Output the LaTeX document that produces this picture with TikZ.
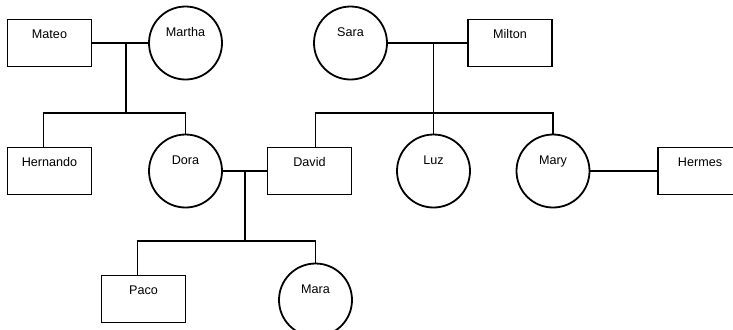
\documentclass[tikz,border=0pt]{standalone}
\usepackage{fontspec}
\setmainfont{Liberation Sans}
\usetikzlibrary{positioning, calc}

\begin{document}
\begin{tikzpicture}[
        on grid,
        male/.style={rectangle, draw=black, line width=0.9pt, minimum width=42pt, minimum height=23.5pt, text height=5pt, text depth=9.7pt, inner sep=1pt, font=\fontsize{6.3}{7}\selectfont},
        female/.style={circle, draw=black, line width=0.9pt, minimum size=36.5pt, text height=5pt, text depth=11.8pt, inner sep=1pt, font=\fontsize{6.3}{7}\selectfont},
        link/.style={line width=0.9pt, draw=black},
    ]
        % Frame
        \useasboundingbox (0,0) rectangle (366.5pt,-164.5pt);
        \clip (0,0) rectangle (366.5pt,-164.5pt);

        % Grandparents
        \node[male] (mateo) at (24.75pt,-21.5pt) {Mateo};
        \node[female, right=68pt of mateo] (martha) {Martha};
        \node[female, right=82.5pt of martha] (sara) {Sara};
        \node[male, right=79.75pt of sara] (milton) {Milton};

        % Parents
        \node[male, below=64pt of mateo] (hernando) {Hernando};
        \node[female, below=64pt of martha] (dora) {Dora};
        \node[male, right=62pt of dora] (david) {David};
        \node[female, right=62pt of david] (luz) {Luz};
        \node[female, right=59.75pt of luz] (mary) {Mary};
        \node[male, right=73.5pt of mary] (hermes) {Hermes};

        % Children
        \node[male, below right=64pt and 47pt of hernando] (paco) {Paco};
        \node[female, below right=64.5pt and 3pt of david] (mara) {Mara};

        % Mateo and Martha
        \draw[link] (mateo) -- (martha);
        \coordinate (mm) at ($(mateo.east)!0.6!(martha.west)$);
        \draw[link] (mm) -- ++(0,-35pt) coordinate (mmkids);
        \draw[link] ([xshift=-3pt]hernando.north) |- (mmkids) -| (dora.north);

        % Sara and Milton
        \draw[link] (sara) -- (milton);
        \coordinate (sm) at (sara.east -| luz);
        \draw[link] (sm) -- (luz.north);
        \coordinate (smkids) at ($(sm)+(0,-35pt)$);
        \draw[link] ([xshift=3pt]david.north) |- (smkids) -| (mary.north);

        % Dora and David
        \draw[link] (dora) -- (david);
        \coordinate (dd) at ($(dora.east)!0.5!(david.west)$);
        \draw[link] (dd) -- ++(0,-35pt) coordinate (ddkids);
        \draw[link] ([xshift=-3pt]paco.north) |- (ddkids) -| (mara.north);

        % Mary and Hermes
        \draw[link] (mary) -- (hermes);
    \end{tikzpicture}
\end{document}
